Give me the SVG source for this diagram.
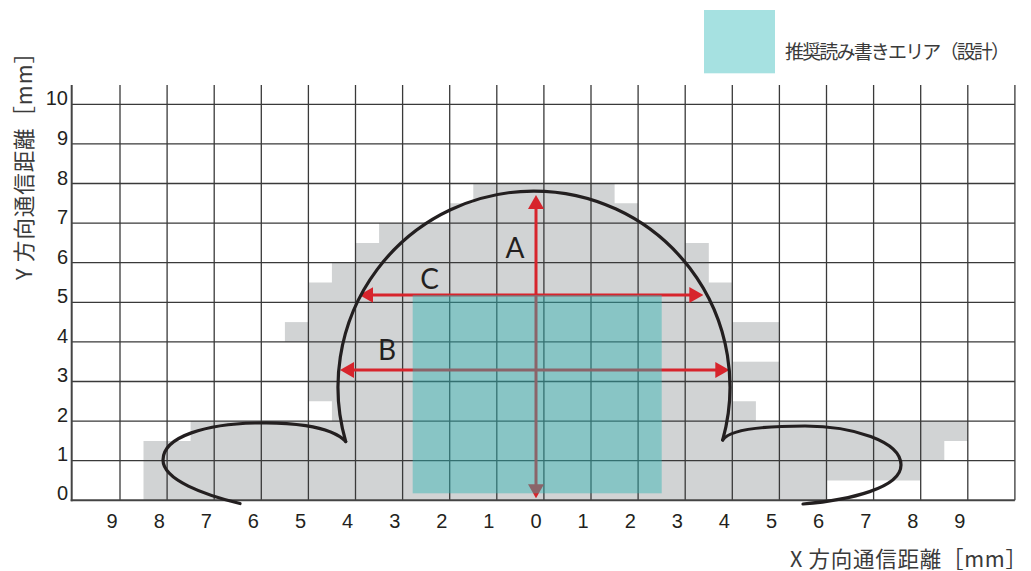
<svg xmlns="http://www.w3.org/2000/svg" width="1031" height="571" viewBox="0 0 1031 571">
<style>
.grid{stroke:#3a3a3a;stroke-width:1.3;fill:none}
.axis{stroke:#444;stroke-width:2;fill:none}
.tick{font-family:"Liberation Sans",Arial,sans-serif;font-size:20px;fill:#231f20}
.jp{font-family:"Noto Sans CJK JP","Noto Sans",sans-serif;fill:#3a3a3a}
.arrow{stroke:#d7242c;stroke-width:3;fill:none}
.curve{stroke:#231f20;stroke-width:3.2;fill:none;stroke-linecap:round;stroke-linejoin:miter}
.lbl{font-family:Lato,"Open Sans",sans-serif;font-size:28px;fill:#231f20;text-anchor:middle}
</style>
<defs>
<marker id="ah" viewBox="0 0 14 16" refX="8" refY="8" markerWidth="14" markerHeight="16" markerUnits="userSpaceOnUse" orient="auto-start-reverse">
<path d="M0,0 L14,8 L0,16 z" fill="#d7242c"/>
</marker>
</defs>
<rect width="1031" height="571" fill="#fff"/>
<g id="coverage">
<path fill="#d1d3d4" d="M143.5,500.3 V441 H190.6 V421.1 H331.9 V401.3 H308.4 V282.5 H331.9 V262.7 H355.5 V242.9 H379.1 V223.1 H449.7 V203.3 H473.3 V183.5 H614.6 V203.3 H638.1 V223.1 H685.2 V242.9 H708.8 V282.5 H732.3 V401.3 H755.9 V421.1 H967.8 V441 H944.3 V460.7 H920.7 V480.5 H826.5 V500.3 Z"/>
<rect x="284.9" y="322.1" width="23.5" height="19.8" fill="#d1d3d4"/>
<rect x="732.3" y="322.1" width="47.1" height="19.8" fill="#d1d3d4"/>
<rect x="732.3" y="361.7" width="47.1" height="19.8" fill="#d1d3d4"/>
</g>
<g id="grid" class="grid">
<path d="M120,85V500.3M167.1,85V500.3M214.2,85V500.3M261.3,85V500.3M308.4,85V500.3M355.5,85V500.3M402.6,85V500.3M449.7,85V500.3M496.8,85V500.3M543.9,85V500.3M591,85V500.3M638.1,85V500.3M685.2,85V500.3M732.3,85V500.3M779.4,85V500.3M826.5,85V500.3M873.6,85V500.3M920.7,85V500.3M967.8,85V500.3M1014.9,85V500.3"/>
<path d="M71.7,104.3H1014.9M71.7,143.9H1014.9M71.7,183.5H1014.9M71.7,223.1H1014.9M71.7,262.7H1014.9M71.7,302.3H1014.9M71.7,341.9H1014.9M71.7,381.5H1014.9M71.7,421.1H1014.9M71.7,460.7H1014.9"/>
</g>
<g id="axes" class="axis">
<path d="M71.7,85V501.3"/>
<path d="M70.7,500.3H1014.9"/>
</g>
<g id="y-ticks" class="tick" text-anchor="end">
<text x="68" y="105">10</text>
<text x="68" y="145">9</text>
<text x="68" y="184.5">8</text>
<text x="68" y="224">7</text>
<text x="68" y="263.5">6</text>
<text x="68" y="303">5</text>
<text x="68" y="342.5">4</text>
<text x="68" y="382">3</text>
<text x="68" y="421.5">2</text>
<text x="68" y="461">1</text>
<text x="68" y="500">0</text>
</g>
<g id="x-ticks" class="tick" text-anchor="middle">
<text x="112.1" y="528">9</text>
<text x="159.2" y="528">8</text>
<text x="206.3" y="528">7</text>
<text x="253.4" y="528">6</text>
<text x="300.5" y="528">5</text>
<text x="347.6" y="528">4</text>
<text x="394.7" y="528">3</text>
<text x="441.8" y="528">2</text>
<text x="488.9" y="528">1</text>
<text x="536" y="528">0</text>
<text x="583.1" y="528">1</text>
<text x="630.2" y="528">2</text>
<text x="677.3" y="528">3</text>
<text x="724.4" y="528">4</text>
<text x="771.5" y="528">5</text>
<text x="818.6" y="528">6</text>
<text x="865.7" y="528">7</text>
<text x="912.8" y="528">8</text>
<text x="959.9" y="528">9</text>
</g>
<g id="connectors">
<path id="arrow-A" class="arrow" d="M536,201V492.3" marker-start="url(#ah)" marker-end="url(#ah)"/>
<path id="arrow-C" class="arrow" d="M365.3,295H697.3" marker-start="url(#ah)" marker-end="url(#ah)"/>
<path id="arrow-B" class="arrow" d="M346,370H723.3" marker-start="url(#ah)" marker-end="url(#ah)"/>
</g>
<g id="recommended-area">
<rect x="412.7" y="295" width="249" height="198.3" fill="#2fb3b3" fill-opacity="0.45"/>
</g>
<g id="range-curve" class="curve">
<path d="M345.7,441.5 A196,196 0 1 1 722.7,440"/>
<path d="M345.7,441.5 C330,425 285,422 255,423 C208,424 163,436 163,460 C163,480 205,495 240,503.5"/>
<path d="M722.7,440 C730,428 770,426 805,426 C852,426 901,441 901,465 C901,488 850,500 803,504"/>
</g>
<g id="labels">
<text class="lbl" x="515" y="258">A</text>
<text class="lbl" x="429.6" y="289">C</text>
<text class="lbl" x="387" y="360">B</text>
</g>
<g id="legend">
<rect x="704" y="10" width="71" height="63.3" fill="#a6e1e1"/>
<text class="jp" x="785" y="59" font-size="19" textLength="225" lengthAdjust="spacing">推奨読み書きエリア（設計）</text>
</g>
<g id="axis-titles">
<text class="jp" x="790" y="566.5" font-size="21.5" textLength="237" lengthAdjust="spacing">X 方向通信距離［mm］</text>
<text class="jp" font-size="21.5" text-anchor="middle" transform="translate(31.5,161) rotate(-90)" textLength="238" lengthAdjust="spacing">Y 方向通信距離［mm］</text>
</g>
</svg>
